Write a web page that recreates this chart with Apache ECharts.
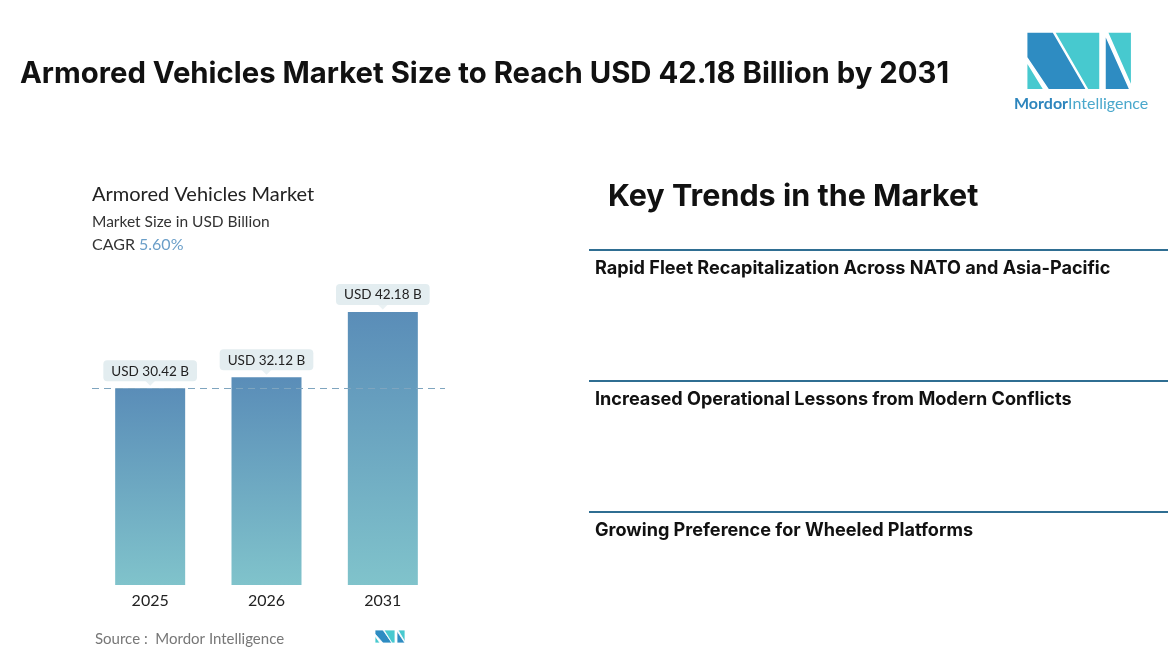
<!DOCTYPE html>
<html>
<head>
<meta charset="utf-8">
<script src="https://cdn.jsdelivr.net/npm/echarts@6/dist/echarts.min.js"></script>
<style>
html,body{margin:0;padding:0;background:#fff;}
#c{width:1170px;height:656px;}
</style>
</head>
<body>
<div id="c"></div>
<script>
const years = ['2025', '2026', '2031'];
const values = [30.42, 32.12, 42.18];
const valueLabels = ['USD 30.42 B', 'USD 32.12 B', 'USD 42.18 B'];
const trends = [
  'Rapid Fleet Recapitalization Across NATO and Asia-Pacific',
  'Increased Operational Lessons from Modern Conflicts',
  'Growing Preference for Wheeled Platforms'
];
const cagr = '5.60%';

const chart = echarts.init(document.getElementById('c'));
const dark = '#2e8cc2', cyan = '#47c9cf';
const lx = (zx) => 1020 + zx / 3, ly = (zy) => 28 + zy / 3;
function poly(pts, color) {
  return { type: 'polygon', shape: { points: pts.map(p => [lx(p[0]), ly(p[1])]) },
           style: { fill: color, stroke: '#fff', lineWidth: 1.5 } };
}
const graphics = [
  { type: 'text', left: 20, top: 60, style: { text: 'Armored Vehicles Market Size to Reach USD 42.18 Billion by 2031',
    font: 'bold 29.3px Inter', fill: '#111' } },
  poly([[20,12],[100,12],[200,185],[85,185],[20,88]], dark),
  poly([[20,100],[20,185],[72,185]], cyan),
  poly([[103,12],[240,12],[240,185],[203,185]], cyan),
  poly([[255,18],[255,185],[330,185]], dark),
  poly([[262,12],[335,12],[335,178]], cyan),
  { type: 'text', left: 1014, top: 96, style: {
      text: '{a|Mordor}{b|Intelligence}',
      rich: { a: { font: 'bold 16px Lato', fill: '#2d85bd' }, b: { font: '16px Lato', fill: '#4aa8cc' } } } },
  { type: 'text', left: 92, top: 185, style: { text: 'Armored Vehicles Market', font: '20px Lato', fill: '#222' } },
  { type: 'text', left: 92, top: 214, style: { text: 'Market Size in USD Billion', font: '15.5px Lato', fill: '#333' } },
  { type: 'text', left: 92, top: 237, style: {
      text: '{a|CAGR }{b|' + cagr + '}',
      rich: { a: { font: '16px Lato', fill: '#333' }, b: { font: '16px Lato', fill: '#6a9ec8' } } } },
  { type: 'text', left: 95, top: 632, style: { text: 'Source :  Mordor Intelligence', font: '15px Lato', fill: '#777' } },
  { type: 'text', left: 608, top: 181, style: { text: 'Key Trends in the Market', font: 'bold 30.5px Inter', fill: '#111' } }
];
// small source logo
const sl = (x, y) => [375 + x, 630 + y];
graphics.push(
  { type: 'polygon', shape: { points: [sl(0,0), sl(8,0), sl(17,13), sl(8,13), sl(0,4)] }, style: { fill: dark, stroke: '#fff', lineWidth: 0.8 } },
  { type: 'polygon', shape: { points: [sl(0,6), sl(0,13), sl(5,13)] }, style: { fill: cyan, stroke: '#fff', lineWidth: 0.8 } },
  { type: 'polygon', shape: { points: [sl(9,0), sl(20,0), sl(20,13), sl(17,13)] }, style: { fill: cyan, stroke: '#fff', lineWidth: 0.8 } },
  { type: 'polygon', shape: { points: [sl(22,1), sl(22,13), sl(30,13)] }, style: { fill: dark, stroke: '#fff', lineWidth: 0.8 } },
  { type: 'polygon', shape: { points: [sl(23,0), sl(30,0), sl(30,12)] }, style: { fill: cyan, stroke: '#fff', lineWidth: 0.8 } }
);
const lineYs = [250, 381, 512];
trends.forEach((t, i) => {
  graphics.push({ type: 'line', shape: { x1: 589, y1: lineYs[i], x2: 1168, y2: lineYs[i] },
    style: { stroke: '#2f6e92', lineWidth: 2 } });
  graphics.push({ type: 'text', left: 595, top: lineYs[i] + 10, style: { text: t, font: 'bold 18.1px Inter', fill: '#111' } });
});

chart.setOption({
  animation: false,
  graphic: graphics,
  grid: { left: 92, right: 729, top: 261.5, bottom: 71, containLabel: false },
  xAxis: { type: 'category', data: years, axisLine: { show: false }, axisTick: { show: false },
    axisLabel: { fontSize: 16, fontFamily: 'Lato', color: '#222', margin: 8 } },
  yAxis: { type: 'value', min: 0, max: 50, show: false, splitLine: { show: false } },
  series: [
    { type: 'bar', data: values, barWidth: 70,
      itemStyle: { color: new echarts.graphic.LinearGradient(0, 0, 0, 1, [
        { offset: 0, color: '#5a8db8' }, { offset: 1, color: '#80c3cb' }]) },
      label: { show: true, position: 'top', distance: 7,
        formatter: (p) => valueLabels[p.dataIndex],
        fontFamily: 'Lato', fontSize: 13.5, color: '#222', backgroundColor: '#e3edf0',
        borderRadius: 4, padding: [4, 8, 3, 8] },
      markLine: { silent: true, symbol: 'none', label: { show: false },
        lineStyle: { type: [7, 5], color: '#7fa5bf', width: 1.2 },
        data: [[{ x: 92, yAxis: values[0] }, { x: 445, yAxis: values[0] }]] },
      z: 2
    },
    { type: 'scatter', data: values, symbol: 'path://M0,0 L10,0 L5,5 Z', symbolSize: [10, 5],
      symbolOffset: [0, -5], itemStyle: { color: '#e3edf0' }, z: 3, silent: true }
  ]
});
</script>
</body>
</html>
